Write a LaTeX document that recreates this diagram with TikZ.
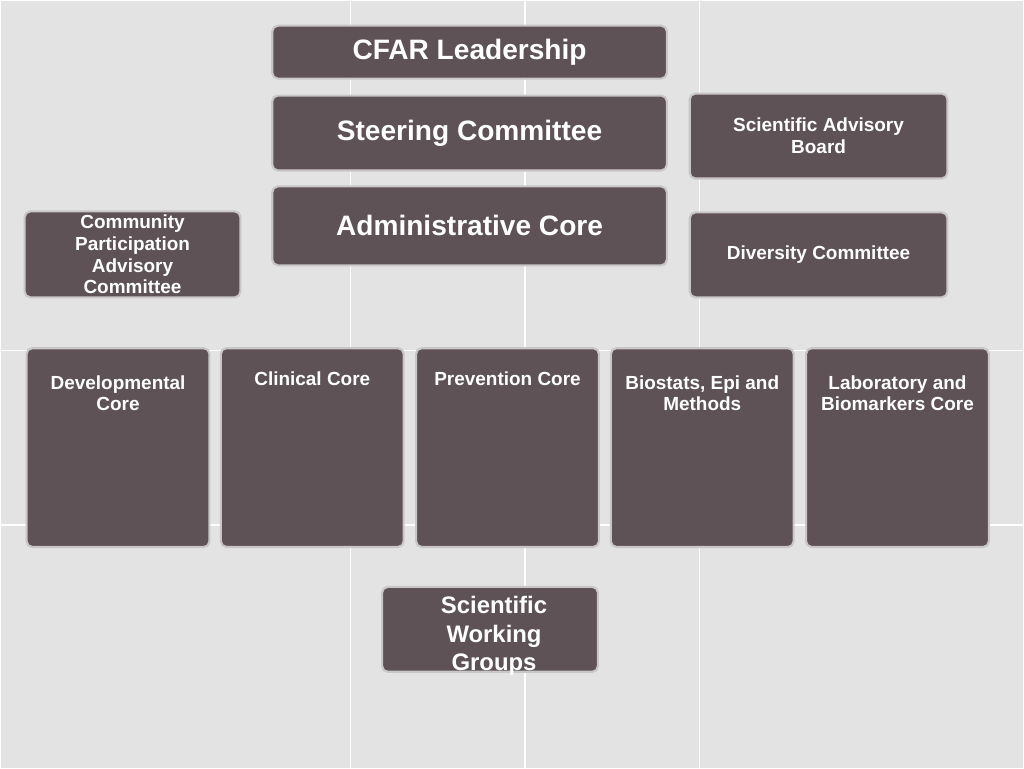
\documentclass[tikz,border=0pt]{standalone}
\usepackage{fontspec}
\setmainfont{Liberation Sans}
\usetikzlibrary{positioning}
\definecolor{boxfill}{HTML}{5E5256}
\definecolor{boxline}{HTML}{C9C6C7}
\definecolor{bggray}{HTML}{E3E3E3}
\tikzset{box/.style={draw=boxline,line width=1.5pt,fill=boxfill,rounded corners=4pt,inner sep=0pt,text=white,font=\bfseries,align=center}}
\tikzset{big/.style={font=\fontsize{20}{22}\selectfont\bfseries}}
\tikzset{small/.style={font=\fontsize{13.5}{15.5}\selectfont\bfseries}}
\tikzset{txt/.style={text=white,align=center,small}}
\begin{document}
\begin{tikzpicture}[x=0.025cm,y=-0.025cm]
\fill[bggray] (0,0) rectangle (1024,768);
\draw[white,line width=1pt] (350,0) -- (350,768) (525,0) -- (525,768) (700,0) -- (700,768)
 (0,350) -- (1024,350) (0,525) -- (1024,525);
% top column
\node[box,big,minimum width=9.875cm,minimum height=1.325cm] (lead) at (469.5,51.5) {CFAR Leadership};
\node[box,big,minimum width=9.875cm,minimum height=1.875cm] (steer) at (469.5,132.5) {Steering Committee};
\node[box,big,minimum width=9.875cm,minimum height=1.975cm] (admin) at (469.5,225.5) {Administrative Core};
% side boxes
\node[box,small,minimum width=6.45cm,minimum height=2.125cm] (sab) at (819,135.5) {Scientific Advisory\\Board};
\node[box,small,minimum width=6.45cm,minimum height=2.125cm] (div) at (819,254.5) {Diversity Committee};
\node[box,small,minimum width=5.4cm,minimum height=2.15cm] (cpac) at (132,254) {Community\\Participation\\Advisory\\Committee};
% cores
\node[box,minimum width=4.575cm,minimum height=4.975cm] (dev) at (117.5,447.5) {};
\node[box,minimum width=4.575cm,minimum height=4.975cm] (clin) at (312,447.5) {};
\node[box,minimum width=4.575cm,minimum height=4.975cm] (prev) at (507.5,447.5) {};
\node[box,minimum width=4.575cm,minimum height=4.975cm] (bio) at (702.5,447.5) {};
\node[box,minimum width=4.575cm,minimum height=4.975cm] (lab) at (898,447.5) {};
\node[txt] (devt) at (117.5,393) {Developmental\\Core};
\node[txt] (clint) at (312,379) {Clinical Core};
\node[txt] (prevt) at (507.5,379) {Prevention Core};
\node[txt] (biot) at (702.5,393) {Biostats, Epi and\\Methods};
\node[txt] (labt) at (898,393) {Laboratory and\\Biomarkers Core};
% working groups
\node[box,minimum width=5.4cm,minimum height=2.125cm] (swg) at (490,629.5) {};
\node[txt,font=\fontsize{17}{20}\selectfont\bfseries] (swgt) at (494,636) {Scientific\\Working\\Groups};
\end{tikzpicture}
\end{document}
